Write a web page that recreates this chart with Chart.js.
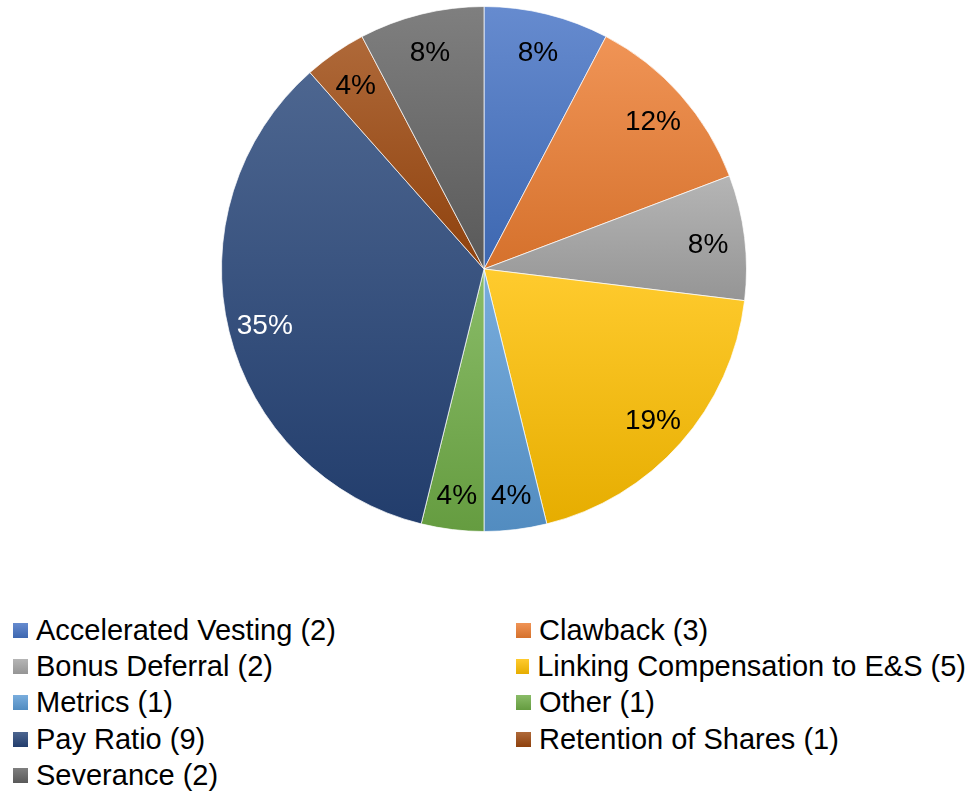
<!DOCTYPE html>
<html>
<head>
<meta charset="utf-8">
<script src="https://cdn.jsdelivr.net/npm/chart.js@4/dist/chart.umd.min.js"></script>
<style>
  body { margin: 0; background: #fff; font-family: "Liberation Sans", Arial, sans-serif; }
  #wrap { position: relative; width: 974px; height: 540px; }
  #legend { position: absolute; top: 612px; left: 13px; width: 961px; display: grid;
    grid-template-columns: 503px 450px; grid-auto-rows: 36.3px; font-size: 29px; color: #000; }
  .item { display: flex; align-items: center; white-space: nowrap; }
  .box { width: 15px; height: 15px; margin-right: 8px; }
</style>
</head>
<body>
<div id="wrap"><canvas id="myChart"></canvas></div>
<div id="legend"></div>
<script>
const labels = ["Accelerated Vesting","Clawback","Bonus Deferral","Linking Compensation to E&S",
  "Metrics","Other","Pay Ratio","Retention of Shares","Severance"];
const counts = [2,3,2,5,1,1,9,1,2];
const colors = ["#4472C4","#ED7D31","#A5A5A5","#FFC000","#5B9BD5","#70AD47","#264478","#9E480E","#636363"];

const total = counts.reduce((a,b) => a+b, 0);

function mix(hex, target, t) {
  const n = parseInt(hex.slice(1), 16);
  const r = n >> 16, g = (n >> 8) & 255, b = n & 255;
  const m = c => Math.round(c + (target - c) * t);
  return "rgb(" + m(r) + "," + m(g) + "," + m(b) + ")";
}
function luma(hex) {
  const n = parseInt(hex.slice(1), 16);
  return (0.299*(n>>16) + 0.587*((n>>8)&255) + 0.114*(n&255)) / 255;
}

// gradient per slice, from its own top to bottom, like the office fill
const gradientFill = {
  id: "gradientFill",
  beforeDatasetsDraw(chart) {
    const c = chart.ctx;
    chart.getDatasetMeta(0).data.forEach((arc, i) => {
      const p = arc.getProps(["x","y","startAngle","endAngle","outerRadius"], true);
      const ys = [p.y, p.y + p.outerRadius*Math.sin(p.startAngle), p.y + p.outerRadius*Math.sin(p.endAngle)];
      for (const a of [-Math.PI/2, Math.PI/2, 3*Math.PI/2]) {
        if (a > p.startAngle && a < p.endAngle) ys.push(p.y + p.outerRadius*Math.sin(a));
      }
      const g = c.createLinearGradient(0, Math.min(...ys), 0, Math.max(...ys));
      g.addColorStop(0, mix(colors[i], 255, 0.18));
      g.addColorStop(1, mix(colors[i], 0, 0.1));
      arc.options.backgroundColor = g;
    });
  }
};

const pctLabels = {
  id: "pctLabels",
  afterDatasetsDraw(chart) {
    const c = chart.ctx;
    c.save();
    c.font = '28px "Liberation Sans", Arial, sans-serif';
    c.textAlign = "center";
    c.textBaseline = "middle";
    chart.getDatasetMeta(0).data.forEach((arc, i) => {
      const p = arc.getProps(["x","y","startAngle","endAngle","outerRadius"], true);
      const mid = (p.startAngle + p.endAngle) / 2;
      const r = p.outerRadius * 0.86;
      c.fillStyle = luma(colors[i]) < 0.3 ? "#fff" : "#000";
      c.fillText(Math.round(counts[i] / total * 100) + "%", p.x + r*Math.cos(mid), p.y + r*Math.sin(mid) + 3);
    });
    c.restore();
  }
};

var ctx = document.getElementById("myChart").getContext("2d");
const chart = new Chart(ctx, {
  type: "pie",
  data: {
    labels: labels,
    datasets: [{
      data: counts,
      backgroundColor: colors,
      borderColor: "rgba(255,255,255,0.7)",
      borderWidth: 1
    }]
  },
  options: {
    responsive: true,
    maintainAspectRatio: false,
    animation: false,
    layout: { padding: { top: 6, bottom: 8, left: 0, right: 6 } },
    plugins: { legend: { display: false }, tooltip: { enabled: false } }
  },
  plugins: [gradientFill, pctLabels]
});

// legend, row by row in two columns
const legend = document.getElementById("legend");
labels.forEach((l, i) => {
  const d = document.createElement("div");
  d.className = "item";
  d.innerHTML = '<span class="box" style="background:linear-gradient(' + mix(colors[i],255,0.18) + ',' + mix(colors[i],0,0.1) + ')"></span>';
  d.appendChild(document.createTextNode(l + " (" + counts[i] + ")"));
  legend.appendChild(d);
});
</script>
</body>
</html>
